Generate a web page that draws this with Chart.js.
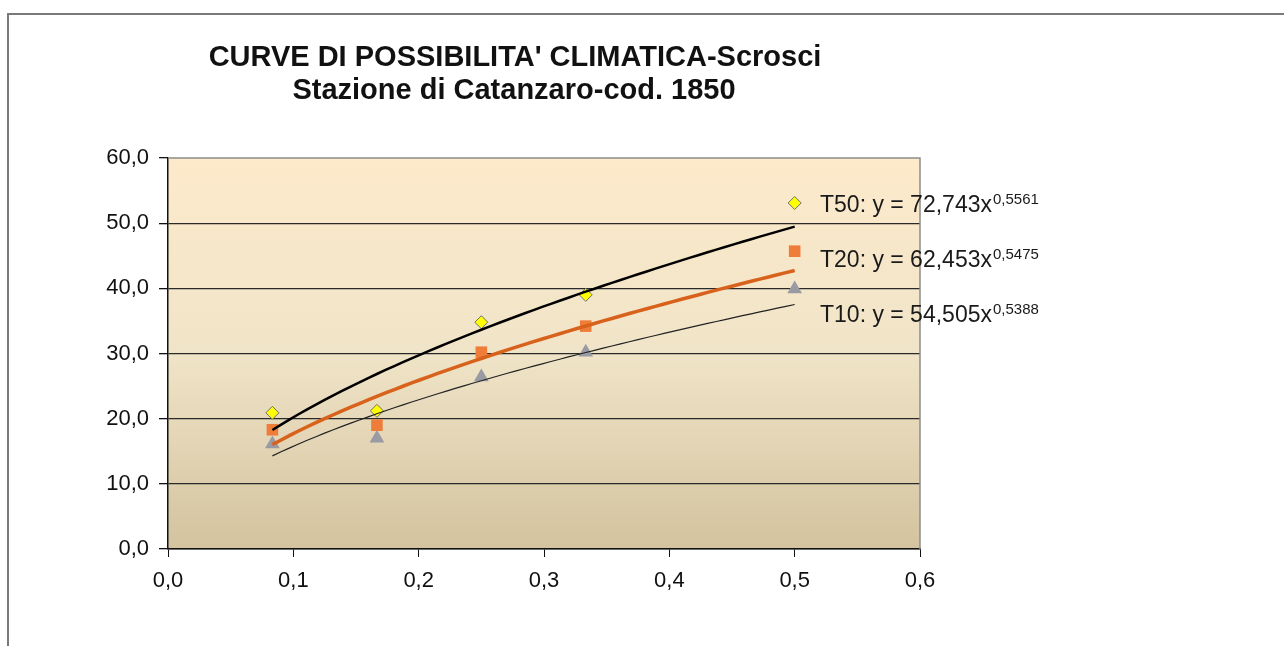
<!DOCTYPE html>
<html>
<head>
<meta charset="utf-8">
<title>Curve di possibilita' climatica - Scrosci</title>
<script src="https://cdn.jsdelivr.net/npm/chart.js@4/dist/chart.umd.min.js"></script>
<style>
  html, body { margin: 0; padding: 0; background: #fff; overflow: hidden; }
  #wrap { position: relative; width: 1284px; height: 646px; }
</style>
</head>
<body>
<div id="wrap"><canvas id="myChart" width="1284" height="646"></canvas></div>
<script>
// durations (hours) and rainfall heights (mm)
const durations = [0.0833, 0.1667, 0.25, 0.3333, 0.5];
const t50Values = [20.9, 21.2, 34.8, 39.0, 53.1];
const t20Values = [18.3, 19.0, 30.2, 34.2, 45.7];
const t10Values = [16.1, 17.0, 26.4, 30.2, 39.9];

// power trendlines as printed on the chart: y = a * x^b
const trendNames = ['T50', 'T20', 'T10'];
const trendA = [72.743, 62.453, 54.505];
const trendB = [0.5561, 0.5475, 0.5388];
const trendALabels = ['72,743', '62,453', '54,505'];
const trendBLabels = ['0,5561', '0,5475', '0,5388'];

const xTicks = [0, 0.1, 0.2, 0.3, 0.4, 0.5, 0.6];
const yTicks = [0, 10, 20, 30, 40, 50, 60];

const titleLines = ["CURVE DI POSSIBILITA' CLIMATICA-Scrosci", 'Stazione di Catanzaro-cod. 1850'];

const FONT = 'Arial, "Liberation Sans", sans-serif';

function toPoints(xs, ys) {
    return xs.map((x, i) => ({ x: x, y: ys[i] }));
}

// trendline drawn between the first and last duration, like Excel does
function trendPoints(a, b) {
    const pts = [];
    const x0 = durations[0], x1 = durations[durations.length - 1];
    const n = 60;
    for (let i = 0; i <= n; i++) {
        const x = x0 + (x1 - x0) * i / n;
        pts.push({ x: x, y: a * Math.pow(x, b) });
    }
    return pts;
}

const fmt = v => v.toFixed(1).replace('.', ',');

const backdrop = {
    id: 'backdrop',
    beforeDraw(chart) {
        const { ctx, chartArea } = chart;
        ctx.save();
        // outer frame, running off the page on right and bottom
        ctx.strokeStyle = '#7a7a7a';
        ctx.lineWidth = 2;
        ctx.strokeRect(8, 14, 1400, 700);
        // plot area gradient
        const g = ctx.createLinearGradient(0, chartArea.top, 0, chartArea.bottom);
        g.addColorStop(0, '#fdeacb');
        g.addColorStop(0.5, '#f0e4c8');
        g.addColorStop(1, '#d3c39e');
        ctx.fillStyle = g;
        ctx.fillRect(chartArea.left, chartArea.top, chartArea.right - chartArea.left, chartArea.bottom - chartArea.top);
        // title
        ctx.fillStyle = '#111';
        ctx.font = 'bold 29px ' + FONT;
        ctx.textAlign = 'center';
        ctx.textBaseline = 'middle';
        ctx.fillText(titleLines[0], 515, 58);
        ctx.fillText(titleLines[1], 514, 91);
        ctx.restore();
    },
    afterDraw(chart) {
        const { ctx } = chart;
        ctx.save();
        // plot area top and right border
        ctx.strokeStyle = '#8c8c8c';
        ctx.lineWidth = 1.5;
        const ca = chart.chartArea;
        ctx.beginPath();
        ctx.moveTo(ca.left, ca.top);
        ctx.lineTo(ca.right, ca.top);
        ctx.lineTo(ca.right, ca.bottom);
        ctx.stroke();
        // trendline equations
        const baselines = [212, 267, 322];
        ctx.fillStyle = '#1a1a1a';
        ctx.textBaseline = 'alphabetic';
        ctx.textAlign = 'left';
        trendNames.forEach((name, i) => {
            ctx.font = '23px ' + FONT;
            const main = name + ': y = ' + trendALabels[i] + 'x';
            ctx.fillText(main, 820, baselines[i]);
            const w = ctx.measureText(main).width;
            ctx.font = '15px ' + FONT;
            ctx.fillText(trendBLabels[i], 820 + w + 1, baselines[i] - 8);
        });
        ctx.restore();
    }
};

new Chart(document.getElementById('myChart'), {
    type: 'scatter',
    data: {
        datasets: [
            {
                label: 'T50 trend',
                data: trendPoints(trendA[0], trendB[0]),
                showLine: true,
                borderColor: '#000000',
                borderWidth: 2.5,
                pointRadius: 0,
                tension: 0
            },
            {
                label: 'T20 trend',
                data: trendPoints(trendA[1], trendB[1]),
                showLine: true,
                borderColor: '#d8621c',
                borderWidth: 3.5,
                pointRadius: 0,
                tension: 0
            },
            {
                label: 'T10 trend',
                data: trendPoints(trendA[2], trendB[2]),
                showLine: true,
                borderColor: '#222222',
                borderWidth: 1.2,
                pointRadius: 0,
                tension: 0
            },
            {
                label: 'T50',
                data: toPoints(durations, t50Values),
                pointStyle: 'rectRot',
                pointRadius: 6.5,
                backgroundColor: '#ffff00',
                borderColor: '#6e6e6e',
                borderWidth: 1
            },
            {
                label: 'T20',
                data: toPoints(durations, t20Values),
                pointStyle: 'rect',
                pointRadius: 8.2,
                backgroundColor: '#ef7d3a',
                borderColor: '#ef7d3a',
                borderWidth: 0
            },
            {
                label: 'T10',
                data: toPoints(durations, t10Values),
                pointStyle: 'triangle',
                pointRadius: 8.5,
                backgroundColor: '#9a9aa2',
                borderColor: '#9a9aa2',
                borderWidth: 0
            }
        ]
    },
    options: {
        responsive: false,
        animation: false,
        layout: {
            padding: { top: 158, right: 364, bottom: 0, left: 0 }
        },
        plugins: {
            legend: { display: false },
            tooltip: { enabled: false },
            title: { display: false }
        },
        scales: {
            x: {
                type: 'linear',
                min: 0,
                max: 0.6,
                afterBuildTicks: scale => { scale.ticks = xTicks.map(v => ({ value: v })); },
                afterFit: scale => { scale.height = 97; },
                border: { display: true, color: '#111', width: 1.5 },
                grid: {
                    drawOnChartArea: false,
                    drawTicks: true,
                    tickLength: 8,
                    tickColor: '#111'
                },
                ticks: {
                    padding: 11,
                    color: '#111',
                    font: { family: FONT, size: 22 },
                    maxRotation: 0,
                    callback: v => fmt(v)
                }
            },
            y: {
                type: 'linear',
                min: 0,
                max: 60,
                afterBuildTicks: scale => { scale.ticks = yTicks.map(v => ({ value: v })); },
                afterFit: scale => { scale.width = 168; },
                border: { display: true, color: '#111', width: 1.5 },
                grid: {
                    drawOnChartArea: true,
                    drawTicks: true,
                    tickLength: 9,
                    tickColor: '#111',
                    color: ctx => (ctx.tick && ctx.tick.value === 60) ? 'rgba(0,0,0,0)' : '#2a2a2a',
                    lineWidth: 1.3
                },
                ticks: {
                    padding: 10,
                    color: '#111',
                    font: { family: FONT, size: 22 },
                    callback: v => fmt(v)
                }
            }
        }
    },
    plugins: [backdrop]
});
</script>
</body>
</html>
